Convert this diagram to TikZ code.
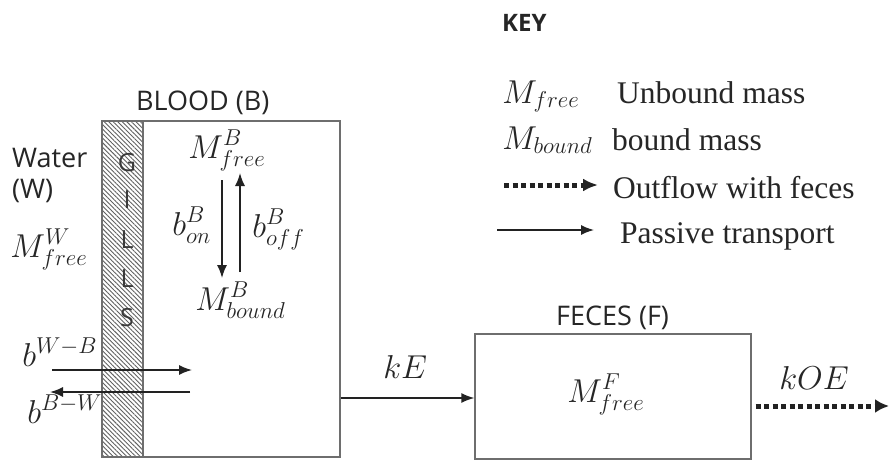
\documentclass[tikz,border=0pt]{standalone}
\usepackage{fontspec}
\setmainfont{Liberation Serif}
\setsansfont{Open Sans}
\usetikzlibrary{arrows.meta,patterns.meta}
\definecolor{boxgray}{HTML}{6E6E6E}
\definecolor{arrgray}{HTML}{222222}
\definecolor{gillgray}{HTML}{3A3A3A}
\begin{document}
\begin{tikzpicture}[x=1pt,y=-1pt,
  lbl/.style={inner sep=0pt,anchor=base west,font=\sffamily\fontsize{27}{30}\selectfont,text=black!85},
  mth/.style={inner sep=0pt,anchor=base west,font=\fontsize{26}{30}\selectfont,text=black!85,scale=1.33},
  keytxt/.style={inner sep=0pt,anchor=base west,font=\fontsize{31.5}{34}\selectfont,text=black!85},
  gl/.style={inner sep=0pt,font=\sffamily\fontsize{25}{28}\selectfont,text=gillgray},
  boxstyle/.style={draw=boxgray,line width=1.3pt,inner sep=0pt},
  flow/.style={draw=arrgray,line width=1.5pt,-{Latex[length=13pt,width=10pt]}},
  dotflow/.style={draw=arrgray,line width=5pt,dash pattern=on 5pt off 3.5pt,-{Latex[length=14pt,width=14pt]}}
]
\useasboundingbox (0,0) rectangle (889,461);
\fill[white] (0,0) rectangle (889,461);

% boxes
\node[boxstyle,minimum width=238pt,minimum height=336pt] (blood) at (221,289) {};
\node[boxstyle,minimum width=41pt,minimum height=336pt,
  pattern={Lines[angle=-45,distance=3.2pt,line width=0.9pt]},pattern color=black!62] (gills) at (122.5,289) {};
\node[boxstyle,minimum width=276pt,minimum height=125pt] (feces) at (613,396.5) {};

% gills letters
\node[gl] (g1) at (127,163) {G};
\node[gl] (g2) at (127,200) {I};
\node[gl] (g3) at (127,240) {L};
\node[gl] (g4) at (127,279) {L};
\node[gl] (g5) at (127,318) {S};

% labels
\node[inner sep=0pt,anchor=base west,font=\sffamily\bfseries\fontsize{24}{26}\selectfont,text=black!85] (key) at (502,31) {KEY};
\node[lbl] (bloodlbl) at (136,110) {BLOOD (B)};
\node[lbl] (water) at (12,167) {Water};
\node[lbl] (waterw) at (12,198) {(W)};
\node[lbl] (feceslbl) at (556,325) {FECES (F)};

% math
\node[mth] (mbf) at (188,158) {$M^{B}_{free}$};
\node[mth] (mbb) at (195,310) {$M^{B}_{bound}$};
\node[mth] (bon) at (172,235) {$b^{B}_{on}$};
\node[mth] (boff) at (252,237) {$b^{B}_{off}$};
\node[mth] (mwf) at (10,257) {$M^{W}_{free}$};
\node[mth] (bwb) at (22,366) {$b^{W-B}$};
\node[mth] (bbw) at (27,423) {$b^{B-W}$};
\node[mth] (mff) at (567,402) {$M^{F}_{free}$};
\node[mth] (ke) at (383,378) {$kE$};
\node[mth] (koe) at (779,389) {$kOE$};

% blood internal arrows
\coordinate (d1) at (222,180);
\coordinate (d2) at (222,278);
\coordinate (u1) at (240,272);
\coordinate (u2) at (240,173);
\draw[flow] (d1) -- (d2);
\draw[flow] (u1) -- (u2);

% exchange arrows across gills
\coordinate (wb1) at (52,370);
\coordinate (wb2) at (192,370);
\coordinate (bw1) at (190,392);
\coordinate (bw2) at (50,392);
\draw[flow] (wb1) -- (wb2);
\draw[flow] (bw1) -- (bw2);

% kE and kOE
\coordinate (kestart) at (blood.east |- 0,398);
\coordinate (keend) at (feces.west |- 0,398);
\draw[flow] (kestart) -- (keend);
\coordinate (koestart) at (feces.east |- 0,406);
\coordinate (koeend) at (889,406);
\draw[dotflow] ([xshift=4pt]koestart) -- (koeend);

% key
\node[mth] (kmf) at (502,103) {$M_{free}$};
\node[keytxt] (kunb) at (617,103) {Unbound mass};
\node[mth] (kmb) at (502,149) {$M_{bound}$};
\node[keytxt] (kbnd) at (612,150) {bound mass};
\coordinate (kd1) at (504,185);
\coordinate (kd2) at (598,185);
\draw[dotflow,-{Latex[length=15pt,width=13pt]}] (kd1) -- (kd2);
\node[keytxt] (kout) at (613,198) {Outflow with feces};
\coordinate (kp1) at (497,230);
\coordinate (kp2) at (594,230);
\draw[flow] (kp1) -- (kp2);
\node[keytxt] (kpas) at (620,243) {Passive transport};
\end{tikzpicture}
\end{document}
